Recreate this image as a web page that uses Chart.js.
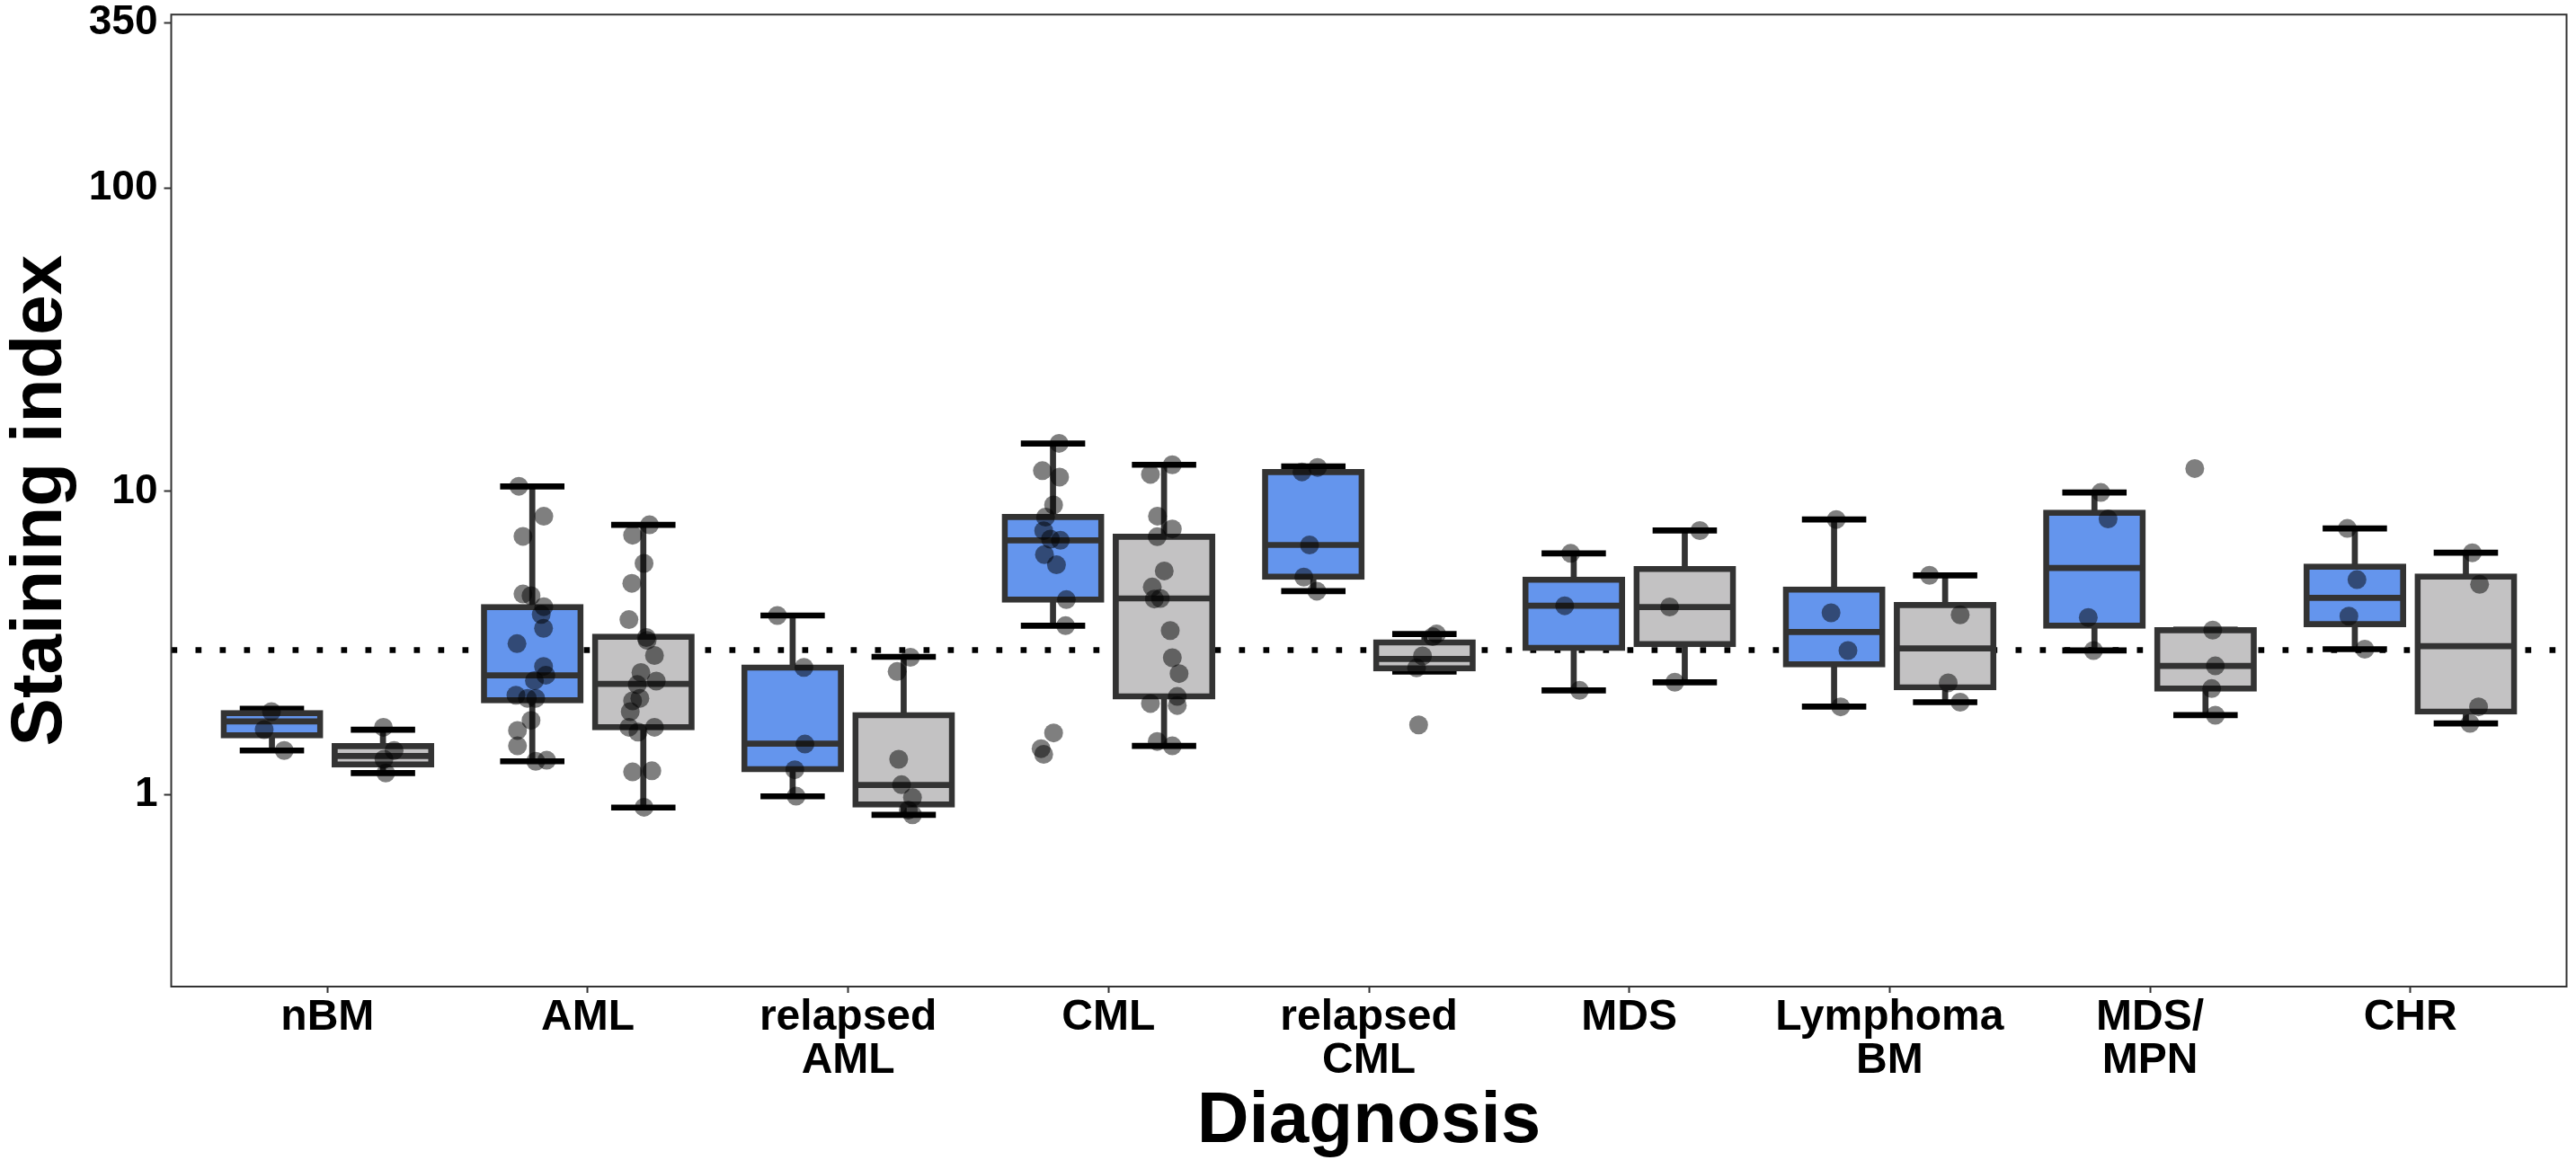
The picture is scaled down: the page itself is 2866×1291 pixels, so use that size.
<!DOCTYPE html>
<html lang="en">
<head>
  <meta charset="UTF-8">
  <title>Staining index by diagnosis</title>
  <style>
    html, body { margin: 0; padding: 0; background: #fff; }
    #wrap { width: 2866px; height: 1291px; }
  </style>
</head>
<body>
  <div id="wrap"><canvas id="boxChart" width="2866" height="1291"></canvas></div>

  <script src="https://cdn.jsdelivr.net/npm/chart.js"></script>
  <script>
    // categories on the x axis (multi-line labels)
    const categories = [["nBM"], ["AML"], ["relapsed", "AML"], ["CML"], ["relapsed", "CML"],
                        ["MDS"], ["Lymphoma", "BM"], ["MDS/", "MPN"], ["CHR"]];
    const yTicks = [1, 10, 100, 350];
    const cutoff = 3;

    // box stats per category: [min, q1, median, q3, max]
    const blueStats = [
      [1.40, 1.57, 1.745, 1.86, 1.92],
      [1.29, 2.05, 2.475, 4.16, 10.38],
      [0.989, 1.214, 1.474, 2.63, 3.90],
      [3.61, 4.40, 6.90, 8.23, 14.38],
      [4.69, 5.23, 6.66, 11.58, 12.08],
      [2.21, 3.05, 4.20, 5.12, 6.25],
      [1.953, 2.69, 3.44, 4.75, 8.08],
      [2.99, 3.61, 5.59, 8.51, 9.92],
      [3.02, 3.65, 4.46, 5.65, 7.55]
    ];
    const grayStats = [
      [1.18, 1.259, 1.343, 1.447, 1.64],
      [0.908, 1.67, 2.32, 3.32, 7.76],
      [0.859, 0.929, 1.077, 1.83, 2.85],
      [1.45, 2.11, 4.44, 7.09, 12.24],
      [2.55, 2.61, 2.806, 3.18, 3.39],
      [2.35, 3.14, 4.16, 5.55, 7.43],
      [2.02, 2.26, 3.04, 4.22, 5.29],
      [1.83, 2.24, 2.66, 3.49, 3.50],
      [1.72, 1.88, 3.09, 5.24, 6.28]
    ];

    // jittered points per category: [offset from category centre, value]
    const bluePoints = [
      [[-0.215, 1.88], [-0.243, 1.64], [-0.166, 1.40]],
      [[-0.265, 10.4], [-0.169, 8.28], [-0.249, 7.11], [-0.249, 4.59], [-0.218, 4.53], [-0.169, 4.17],
       [-0.179, 3.93], [-0.170, 3.54], [-0.272, 3.15], [-0.170, 2.65], [-0.161, 2.48], [-0.205, 2.38],
       [-0.276, 2.13], [-0.232, 2.08], [-0.200, 2.08], [-0.218, 1.76], [-0.270, 1.63], [-0.270, 1.45],
       [-0.200, 1.29], [-0.158, 1.30]],
      [[-0.272, 3.90], [-0.170, 2.63], [-0.166, 1.47], [-0.205, 1.21], [-0.200, 0.99]],
      [[-0.190, 14.4], [-0.254, 11.7], [-0.188, 11.15], [-0.211, 9.02], [-0.242, 8.23], [-0.249, 7.42],
       [-0.223, 6.96], [-0.185, 6.90], [-0.246, 6.19], [-0.200, 5.73], [-0.162, 4.40], [-0.165, 3.61],
       [-0.211, 1.60], [-0.259, 1.42], [-0.249, 1.36]],
      [[-0.257, 11.6], [-0.197, 12.0], [-0.228, 6.66], [-0.250, 5.22], [-0.200, 4.69]],
      [[-0.225, 6.25], [-0.248, 4.20], [-0.191, 2.21]],
      [[-0.205, 8.08], [-0.225, 3.98], [-0.160, 2.99], [-0.188, 1.95]],
      [[-0.189, 9.92], [-0.161, 8.11], [-0.237, 3.84], [-0.217, 2.99]],
      [[-0.242, 7.55], [-0.205, 5.12], [-0.236, 3.88], [-0.175, 3.02]]
    ];
    const grayPoints = [
      [[0.215, 1.67], [0.256, 1.40], [0.217, 1.31], [0.224, 1.18]],
      [[0.237, 7.76], [0.172, 7.17], [0.216, 5.79], [0.169, 4.98], [0.158, 3.78], [0.225, 3.30],
       [0.228, 3.23], [0.256, 2.88], [0.204, 2.53], [0.263, 2.37], [0.190, 2.31], [0.200, 2.08],
       [0.172, 2.04], [0.163, 1.88], [0.158, 1.67], [0.256, 1.67], [0.193, 1.61], [0.172, 1.19],
       [0.246, 1.20], [0.216, 0.91]],
      [[0.239, 2.84], [0.188, 2.55], [0.194, 1.31], [0.205, 1.08], [0.247, 0.98], [0.231, 0.89], [0.247, 0.86]],
      [[0.245, 12.24], [0.161, 11.38], [0.188, 8.29], [0.245, 7.52], [0.187, 7.09], [0.214, 5.47],
       [0.168, 4.84], [0.199, 4.44], [0.176, 4.42], [0.237, 3.48], [0.245, 2.83], [0.271, 2.51],
       [0.264, 2.11], [0.161, 2.00], [0.264, 1.97], [0.187, 1.50], [0.245, 1.45]],
      [[0.260, 3.39], [0.245, 3.32], [0.206, 2.87], [0.183, 2.62], [0.191, 1.70]],
      [[0.271, 7.43], [0.155, 4.16], [0.175, 2.35]],
      [[0.153, 5.29], [0.271, 3.92], [0.225, 2.34], [0.271, 2.02]],
      [[0.172, 11.9], [0.241, 3.49], [0.251, 2.66], [0.237, 2.24], [0.251, 1.83]],
      [[0.238, 6.28], [0.266, 4.94], [0.262, 1.95], [0.229, 1.72]]
    ];

    const FONT = "'Liberation Sans', Arial, Helvetica, sans-serif";
    const STROKE = 6.7;

    const toBox = stats => stats.map((s, i) => ({ x: i, y: [s[1], s[3]] }));
    const toPts = groups => groups.flatMap((g, i) => g.map(p => ({ x: i + p[0], y: p[1] })));

    // whiskers + caps behind each box, median line on top of it
    const boxExtras = {
      id: 'boxExtras',
      beforeDatasetDraw(chart, args) {
        const ds = chart.data.datasets[args.index];
        if (!ds.stats) return;
        const y = chart.scales.y, ctx = chart.ctx;
        ctx.save();
        ctx.lineWidth = STROKE;
        args.meta.data.forEach((bar, i) => {
          const s = ds.stats[i];
          ctx.strokeStyle = '#333333';
          ctx.beginPath();
          ctx.moveTo(bar.x, y.getPixelForValue(s[0]));
          ctx.lineTo(bar.x, y.getPixelForValue(s[4]));
          ctx.stroke();
          const half = bar.width * 0.333;
          ctx.strokeStyle = '#000';
          [s[0], s[4]].forEach(v => {
            const py = y.getPixelForValue(v);
            ctx.beginPath();
            ctx.moveTo(bar.x - half, py);
            ctx.lineTo(bar.x + half, py);
            ctx.stroke();
          });
        });
        ctx.restore();
      },
      afterDatasetDraw(chart, args) {
        const ds = chart.data.datasets[args.index];
        if (!ds.stats) return;
        const y = chart.scales.y, ctx = chart.ctx;
        ctx.save();
        ctx.lineWidth = STROKE;
        ctx.strokeStyle = '#333333';
        args.meta.data.forEach((bar, i) => {
          const py = y.getPixelForValue(ds.stats[i][2]);
          ctx.beginPath();
          ctx.moveTo(bar.x - bar.width / 2, py);
          ctx.lineTo(bar.x + bar.width / 2, py);
          ctx.stroke();
        });
        ctx.restore();
      },
      afterDraw(chart) {
        const a = chart.chartArea, ctx = chart.ctx;
        ctx.save();
        ctx.strokeStyle = '#333333';
        ctx.lineWidth = 2;
        ctx.strokeRect(a.left, a.top, a.right - a.left, a.bottom - a.top);
        ctx.restore();
      }
    };

    const boxStyle = {
      borderColor: '#333333',
      borderWidth: STROKE,
      borderSkipped: false,
      inflateAmount: STROKE / 2,
      categoryPercentage: 0.853,
      barPercentage: 0.87,
      order: 3
    };

    new Chart(document.getElementById('boxChart'), {
      type: 'bar',
      data: {
        datasets: [
          {
            type: 'line',
            data: [{ x: -0.6, y: cutoff }, { x: 8.6, y: cutoff }],
            borderColor: '#000',
            borderWidth: 6.7,
            borderDash: [6.7, 20.3],
            borderCapStyle: 'butt',
            pointRadius: 0,
            order: 4
          },
          Object.assign({ data: toBox(blueStats), stats: blueStats, backgroundColor: '#6495ED' }, boxStyle),
          Object.assign({ data: toBox(grayStats), stats: grayStats, backgroundColor: '#C3C2C3' }, boxStyle),
          {
            type: 'scatter',
            data: toPts(bluePoints).concat(toPts(grayPoints)),
            pointRadius: 10.5,
            pointBackgroundColor: 'rgba(0,0,0,0.5)',
            pointBorderWidth: 0,
            order: 1
          }
        ]
      },
      options: {
        responsive: false,
        animation: false,
        events: [],
        layout: { padding: { top: 10, right: 1.5, bottom: 0, left: 0 } },
        plugins: { legend: { display: false }, tooltip: { enabled: false } },
        scales: {
          x: {
            type: 'linear',
            min: -0.6,
            max: 8.6,
            offset: false,
            afterBuildTicks: s => { s.ticks = categories.map((c, i) => ({ value: i })); },
            afterFit: s => { s.height = 193; },
            grid: { offset: false, drawOnChartArea: false, drawTicks: true, tickLength: 7, tickColor: '#333333', tickWidth: 2 },
            border: { display: false },
            ticks: {
              autoSkip: false, maxRotation: 0, minRotation: 0, padding: 4, color: '#000',
              font: { family: FONT, size: 48, weight: 'bold', lineHeight: 1.0 },
              callback: v => categories[v]
            },
            title: {
              display: true, text: 'Diagnosis', color: '#000',
              font: { family: FONT, size: 80, weight: 'bold', lineHeight: 1.0 },
              padding: { top: 0, bottom: 2 }
            }
          },
          y: {
            type: 'logarithmic',
            min: 0.2334,
            max: 372.8,
            afterBuildTicks: s => { s.ticks = yTicks.map(v => ({ value: v })); },
            afterFit: s => { s.width = 190.5; },
            grid: { drawOnChartArea: false, drawTicks: true, tickLength: 8, tickColor: '#333333', tickWidth: 2 },
            border: { display: false },
            ticks: {
              padding: 7, color: '#000',
              font: { family: FONT, size: 46, weight: 'bold', lineHeight: 0.4 },
              callback: v => String(v)
            },
            title: {
              display: true, text: 'Staining index', color: '#000',
              font: { family: FONT, size: 80, weight: 'bold', lineHeight: 1.0 },
              padding: { top: 6, bottom: 0 }
            }
          }
        }
      },
      plugins: [boxExtras]
    });
  </script>
</body>
</html>
